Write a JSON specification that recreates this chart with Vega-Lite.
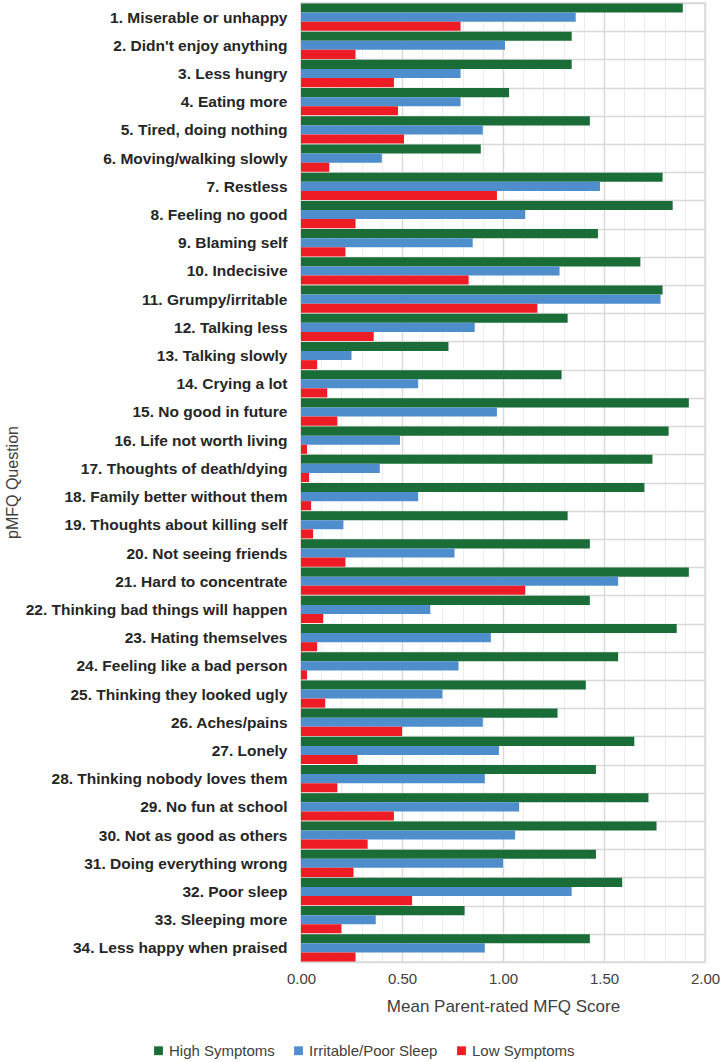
{
  "$schema": "https://vega.github.io/schema/vega-lite/v6.json",
  "autosize": {"type": "none"},
  "padding": {"left": 301, "top": 3, "right": 17, "bottom": 100},
  "width": 404,
  "height": 959,
  "background": "white",
  "data": {
    "values": [
      {"q": "1. Miserable or unhappy", "High Symptoms": 1.89, "Irritable/Poor Sleep": 1.36, "Low Symptoms": 0.79},
      {"q": "2. Didn't enjoy anything", "High Symptoms": 1.34, "Irritable/Poor Sleep": 1.01, "Low Symptoms": 0.27},
      {"q": "3. Less hungry", "High Symptoms": 1.34, "Irritable/Poor Sleep": 0.79, "Low Symptoms": 0.46},
      {"q": "4. Eating more", "High Symptoms": 1.03, "Irritable/Poor Sleep": 0.79, "Low Symptoms": 0.48},
      {"q": "5. Tired, doing nothing", "High Symptoms": 1.43, "Irritable/Poor Sleep": 0.90, "Low Symptoms": 0.51},
      {"q": "6. Moving/walking slowly", "High Symptoms": 0.89, "Irritable/Poor Sleep": 0.40, "Low Symptoms": 0.14},
      {"q": "7. Restless", "High Symptoms": 1.79, "Irritable/Poor Sleep": 1.48, "Low Symptoms": 0.97},
      {"q": "8. Feeling no good ", "High Symptoms": 1.84, "Irritable/Poor Sleep": 1.11, "Low Symptoms": 0.27},
      {"q": "9. Blaming self", "High Symptoms": 1.47, "Irritable/Poor Sleep": 0.85, "Low Symptoms": 0.22},
      {"q": "10. Indecisive", "High Symptoms": 1.68, "Irritable/Poor Sleep": 1.28, "Low Symptoms": 0.83},
      {"q": "11. Grumpy/irritable", "High Symptoms": 1.79, "Irritable/Poor Sleep": 1.78, "Low Symptoms": 1.17},
      {"q": "12. Talking less", "High Symptoms": 1.32, "Irritable/Poor Sleep": 0.86, "Low Symptoms": 0.36},
      {"q": "13. Talking slowly", "High Symptoms": 0.73, "Irritable/Poor Sleep": 0.25, "Low Symptoms": 0.08},
      {"q": "14. Crying a lot", "High Symptoms": 1.29, "Irritable/Poor Sleep": 0.58, "Low Symptoms": 0.13},
      {"q": "15. No good in future", "High Symptoms": 1.92, "Irritable/Poor Sleep": 0.97, "Low Symptoms": 0.18},
      {"q": "16. Life not worth living", "High Symptoms": 1.82, "Irritable/Poor Sleep": 0.49, "Low Symptoms": 0.03},
      {"q": "17. Thoughts of death/dying", "High Symptoms": 1.74, "Irritable/Poor Sleep": 0.39, "Low Symptoms": 0.04},
      {"q": "18. Family better without them", "High Symptoms": 1.70, "Irritable/Poor Sleep": 0.58, "Low Symptoms": 0.05},
      {"q": "19. Thoughts about killing self", "High Symptoms": 1.32, "Irritable/Poor Sleep": 0.21, "Low Symptoms": 0.06},
      {"q": "20. Not seeing friends", "High Symptoms": 1.43, "Irritable/Poor Sleep": 0.76, "Low Symptoms": 0.22},
      {"q": "21. Hard to concentrate", "High Symptoms": 1.92, "Irritable/Poor Sleep": 1.57, "Low Symptoms": 1.11},
      {"q": "22. Thinking bad things will happen", "High Symptoms": 1.43, "Irritable/Poor Sleep": 0.64, "Low Symptoms": 0.11},
      {"q": "23. Hating themselves", "High Symptoms": 1.86, "Irritable/Poor Sleep": 0.94, "Low Symptoms": 0.08},
      {"q": "24. Feeling like a bad person", "High Symptoms": 1.57, "Irritable/Poor Sleep": 0.78, "Low Symptoms": 0.03},
      {"q": "25. Thinking they looked ugly", "High Symptoms": 1.41, "Irritable/Poor Sleep": 0.70, "Low Symptoms": 0.12},
      {"q": "26. Aches/pains", "High Symptoms": 1.27, "Irritable/Poor Sleep": 0.90, "Low Symptoms": 0.50},
      {"q": "27. Lonely", "High Symptoms": 1.65, "Irritable/Poor Sleep": 0.98, "Low Symptoms": 0.28},
      {"q": "28. Thinking nobody loves them", "High Symptoms": 1.46, "Irritable/Poor Sleep": 0.91, "Low Symptoms": 0.18},
      {"q": "29. No fun at school", "High Symptoms": 1.72, "Irritable/Poor Sleep": 1.08, "Low Symptoms": 0.46},
      {"q": "30. Not as good as others", "High Symptoms": 1.76, "Irritable/Poor Sleep": 1.06, "Low Symptoms": 0.33},
      {"q": "31. Doing everything wrong", "High Symptoms": 1.46, "Irritable/Poor Sleep": 1.00, "Low Symptoms": 0.26},
      {"q": "32. Poor sleep", "High Symptoms": 1.59, "Irritable/Poor Sleep": 1.34, "Low Symptoms": 0.55},
      {"q": "33. Sleeping more", "High Symptoms": 0.81, "Irritable/Poor Sleep": 0.37, "Low Symptoms": 0.20},
      {"q": "34. Less happy when praised", "High Symptoms": 1.43, "Irritable/Poor Sleep": 0.91, "Low Symptoms": 0.27}
    ]
  },
  "transform": [
    {"fold": ["High Symptoms", "Irritable/Poor Sleep", "Low Symptoms"], "as": ["group", "score"]}
  ],
  "mark": {"type": "bar"},
  "encoding": {
    "y": {
      "field": "q",
      "type": "nominal",
      "sort": null,
      "scale": {"paddingInner": 0, "paddingOuter": 0},
      "axis": {
        "title": "pMFQ Question",
        "titleFont": "Liberation Sans",
        "titleFontSize": 16,
        "titleFontWeight": "normal",
        "titleColor": "#404040",
        "titleAngle": 270,
        "titleAlign": "center",
        "titleBaseline": "middle",
        "titleX": -289,
        "titleY": 479,
        "labelFont": "Liberation Sans",
        "labelFontSize": 15.5,
        "labelFontWeight": "bold",
        "labelColor": "#262626",
        "labelPadding": 14,
        "labelLimit": 300,
        "ticks": false,
        "tickSize": 0,
        "domain": false,
        "tickBand": "extent",
        "grid": true,
        "gridColor": "#d9d9d9",
        "gridWidth": 1.5
      }
    },
    "yOffset": {
      "field": "group",
      "type": "nominal",
      "sort": ["High Symptoms", "Irritable/Poor Sleep", "Low Symptoms"],
      "scale": {"paddingInner": 0, "paddingOuter": 0.05}
    },
    "x": {
      "field": "score",
      "type": "quantitative",
      "scale": {"domain": [0, 2], "nice": false, "zero": true},
      "axis": {
        "title": "Mean Parent-rated MFQ Score",
        "titleFont": "Liberation Sans",
        "titleFontSize": 17,
        "titleFontWeight": "normal",
        "titleColor": "#404040",
        "titlePadding": 12,
        "values": [0, 0.1, 0.2, 0.3, 0.4, 0.5, 0.6, 0.7, 0.8, 0.9, 1, 1.1, 1.2, 1.3, 1.4, 1.5, 1.6, 1.7, 1.8, 1.9, 2],
        "labelExpr": "abs(datum.value*2 - round(datum.value*2)) < 0.001 ? format(datum.value, '.2f') : ''",
        "labelFont": "Liberation Sans",
        "labelFontSize": 15,
        "labelColor": "#404040",
        "labelPadding": 9,
        "labelFlush": false,
        "labelOverlap": false,
        "ticks": false,
        "domain": false,
        "grid": true,
        "gridColor": {"condition": {"test": "abs(datum.value*2 - round(datum.value*2)) < 0.001", "value": "#d9d9d9"}, "value": "#ececec"},
        "gridWidth": {"condition": {"test": "abs(datum.value*2 - round(datum.value*2)) < 0.001", "value": 1.5}, "value": 1}
      }
    },
    "color": {
      "field": "group",
      "type": "nominal",
      "sort": ["High Symptoms", "Irritable/Poor Sleep", "Low Symptoms"],
      "scale": {
        "domain": ["High Symptoms", "Irritable/Poor Sleep", "Low Symptoms"],
        "range": ["#1a6d37", "#4f8ecd", "#ee1d25"]
      },
      "legend": {
        "title": null,
        "orient": "none",
        "direction": "horizontal",
        "legendX": -150,
        "legendY": 1040,
        "symbolType": "square",
        "symbolSize": 78,
        "symbolStrokeWidth": 0,
        "labelFont": "Liberation Sans",
        "labelFontSize": 15,
        "labelColor": "#404040",
        "labelOffset": 3,
        "columnPadding": 16
      }
    }
  },
  "config": {
    "view": {"stroke": "#d9d9d9", "strokeWidth": 1.5},
    "font": "Liberation Sans"
  }
}
